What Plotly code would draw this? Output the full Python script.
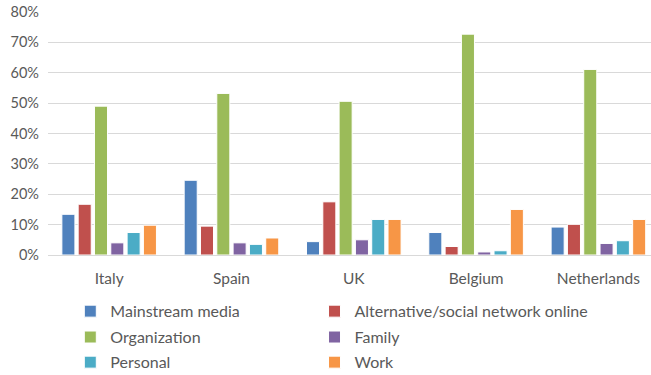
import plotly.graph_objects as go

countries = ["Italy", "Spain", "UK", "Belgium", "Netherlands"]

mainstream_media = [0.134, 0.246, 0.044, 0.074, 0.092]
alternative_online = [0.167, 0.095, 0.175, 0.028, 0.101]
organization = [0.490, 0.532, 0.506, 0.727, 0.611]
family = [0.040, 0.040, 0.050, 0.010, 0.038]
personal = [0.074, 0.035, 0.117, 0.014, 0.047]
work = [0.098, 0.056, 0.117, 0.150, 0.117]

y_ticks = [0, 0.1, 0.2, 0.3, 0.4, 0.5, 0.6, 0.7, 0.8]
y_tick_text = ["0%", "10%", "20%", "30%", "40%", "50%", "60%", "70%", "80%"]

series_names = ["Mainstream media", "Alternative/social network online",
                "Organization", "Family", "Personal", "Work"]
series_values = [mainstream_media, alternative_online, organization,
                 family, personal, work]
series_colors = ["#4F81BD", "#C0504D", "#9BBB59", "#8064A2", "#4BACC6", "#F79646"]

FONT = "Lato"
TEXT = "#595959"

# Legend laid out as a 2-column grid below the plot, one legend box per entry.
col_x = [0.037, 0.442]
row_y = [0.170, 0.101, 0.034]

fig = go.Figure()
legend_layout = {}
for i, (name, vals, color) in enumerate(zip(series_names, series_values, series_colors)):
    key = f"legend{i + 2}"
    fig.add_trace(go.Bar(
        x=countries, y=vals, name=name, legend=key,
        marker=dict(color=color, line=dict(color="white", width=1)),
    ))
    legend_layout[key] = dict(
        xref="paper", yref="container",
        x=col_x[i % 2], y=row_y[i // 2],
        xanchor="left", yanchor="middle", orientation="h",
        font=dict(family=FONT, size=16, color=TEXT),
        itemwidth=30, bgcolor="rgba(0,0,0,0)",
        itemclick=False, itemdoubleclick=False,
    )

fig.update_layout(
    width=651, height=375,
    margin=dict(l=48, r=0, t=12, b=120),
    paper_bgcolor="white", plot_bgcolor="white",
    barmode="group", bargap=0.2, bargroupgap=0.2,
    font=dict(family=FONT, size=14, color=TEXT),
    xaxis=dict(
        range=[-0.5, 4.43], showgrid=False, showline=False, ticks="",
        ticklabelstandoff=12,
        tickfont=dict(family=FONT, size=15.5, color=TEXT),
    ),
    yaxis=dict(
        range=[0, 0.8], tickvals=y_ticks, ticktext=y_tick_text,
        showgrid=True, gridcolor="#D9D9D9", gridwidth=1,
        zeroline=True, zerolinecolor="#D9D9D9", zerolinewidth=1,
        showline=False, ticks="", ticklabelstandoff=8,
        tickfont=dict(family=FONT, size=14.5, color=TEXT),
    ),
    **legend_layout,
)

fig.write_html("out.html")
